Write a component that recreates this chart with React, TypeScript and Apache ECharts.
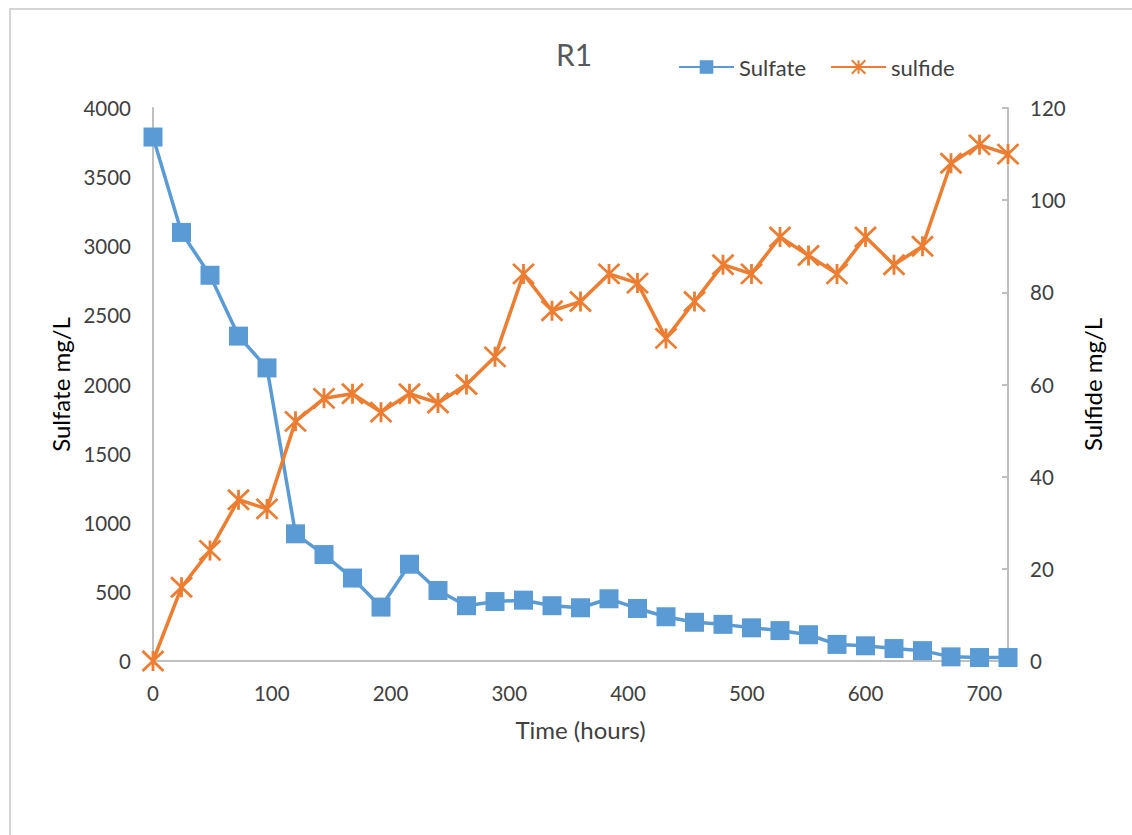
import React, { useEffect, useRef } from "react";
import * as echarts from "echarts";

// Sampling times (hours)
const hours = [
  0, 24, 48, 72, 96, 120, 144, 168, 192, 216, 240, 264, 288, 312, 336, 360,
  384, 408, 432, 456, 480, 504, 528, 552, 576, 600, 624, 648, 672, 696, 720,
];

// Sulfate concentration (mg/L), left axis
const sulfate = [
  3790, 3100, 2790, 2350, 2120, 920, 770, 600, 390, 700, 510, 400, 430, 440,
  400, 385, 450, 380, 320, 280, 265, 240, 220, 190, 120, 110, 90, 75, 30, 25, 25,
];

// Sulfide concentration (mg/L), right axis
const sulfide = [
  0, 16, 24, 35, 33, 52, 57, 58, 54, 58, 56, 60, 66, 84, 76, 78, 84, 82, 70,
  78, 86, 84, 92, 88, 84, 92, 86, 90, 108, 112, 110,
];

const xTicks = { min: 0, max: 720, interval: 100 };
const leftTicks = { min: 0, max: 4000, interval: 500 };
const rightTicks = { min: 0, max: 120, interval: 20 };

const BLUE = "#5B9BD5";
const ORANGE = "#ED7D31";
const AXIS = "#BFBFBF";
const TEXT = "#404040";
const FONT = "Lato";

// six-armed asterisk marker
const ASTERISK = "path://M0,0L20,19M20,0L0,19M10,0L10,19";

const plain = (v: number) => String(v);

export default function App() {
  const ref = useRef<HTMLDivElement>(null);

  useEffect(() => {
    if (!ref.current) return;
    const chart = echarts.init(ref.current, undefined, { renderer: "svg" });
    const pairs = (ys: number[]) => hours.map((h, i) => [h, ys[i]]);

    chart.setOption({
      animation: false,
      backgroundColor: "#ffffff",
      textStyle: { fontFamily: FONT },
      graphic: [
        {
          type: "rect",
          shape: { x: 10, y: 9, width: 1200, height: 900 },
          style: { fill: "none", stroke: "#D4D4D4", lineWidth: 2 },
          silent: true,
        },
      ],
      title: {
        text: "R1",
        left: 551,
        top: 34,
        textStyle: { fontFamily: FONT, fontSize: 30, fontWeight: "normal", color: "#595959" },
      },
      legend: {
        left: 673,
        top: 51,
        itemWidth: 55,
        itemHeight: 17,
        itemGap: 24,
        textStyle: { fontFamily: FONT, fontSize: 22, color: TEXT },
        data: ["Sulfate", "sulfide"],
      },
      grid: { left: 153, right: 124, top: 108, bottom: 174 },
      xAxis: {
        type: "value",
        ...xTicks,
        name: "Time (hours)",
        nameLocation: "middle",
        nameGap: 56,
        nameTextStyle: { fontFamily: FONT, fontSize: 24, color: TEXT },
        axisLine: { show: true, lineStyle: { color: AXIS, width: 2 } },
        axisTick: { show: false },
        splitLine: { show: false },
        axisLabel: {
          showMaxLabel: false,
          margin: 21,
          fontFamily: FONT,
          fontSize: 20.5,
          color: TEXT,
          formatter: plain,
        },
      },
      yAxis: [
        {
          type: "value",
          ...leftTicks,
          position: "left",
          name: "Sulfate mg/L",
          nameLocation: "middle",
          nameGap: 78,
          nameTextStyle: { fontFamily: FONT, fontSize: 24, color: "#000000" },
          axisLine: { show: true, lineStyle: { color: AXIS, width: 2 } },
          axisTick: { show: false },
          splitLine: { show: false },
          axisLabel: { margin: 22, fontFamily: FONT, fontSize: 20.5, color: TEXT, formatter: plain },
        },
        {
          type: "value",
          ...rightTicks,
          position: "right",
          name: "Sulfide mg/L",
          nameLocation: "middle",
          nameGap: 72,
          nameTextStyle: { fontFamily: FONT, fontSize: 24, color: "#000000" },
          axisLine: { show: true, lineStyle: { color: AXIS, width: 2 } },
          axisTick: { show: true, inside: true, length: 6, lineStyle: { color: AXIS, width: 2 } },
          splitLine: { show: false },
          axisLabel: { margin: 22, fontFamily: FONT, fontSize: 20.5, color: TEXT, formatter: plain },
        },
      ],
      series: [
        {
          name: "Sulfate",
          type: "line",
          yAxisIndex: 0,
          data: pairs(sulfate),
          symbol: "rect",
          symbolSize: 19,
          showAllSymbol: true,
          lineStyle: { color: BLUE, width: 3.5 },
          itemStyle: { color: BLUE, borderColor: BLUE, borderWidth: 0 },
        },
        {
          name: "sulfide",
          type: "line",
          yAxisIndex: 1,
          data: pairs(sulfide),
          symbol: ASTERISK,
          symbolSize: [21, 20],
          showAllSymbol: true,
          lineStyle: { color: ORANGE, width: 3.5 },
          itemStyle: { color: ORANGE, borderColor: ORANGE, borderWidth: 2.75 },
        },
      ],
    });

    return () => chart.dispose();
  }, []);

  return (
    <div
      ref={ref}
      style={{ position: "absolute", left: 0, top: 0, width: 1132, height: 835 }}
    />
  );
}
